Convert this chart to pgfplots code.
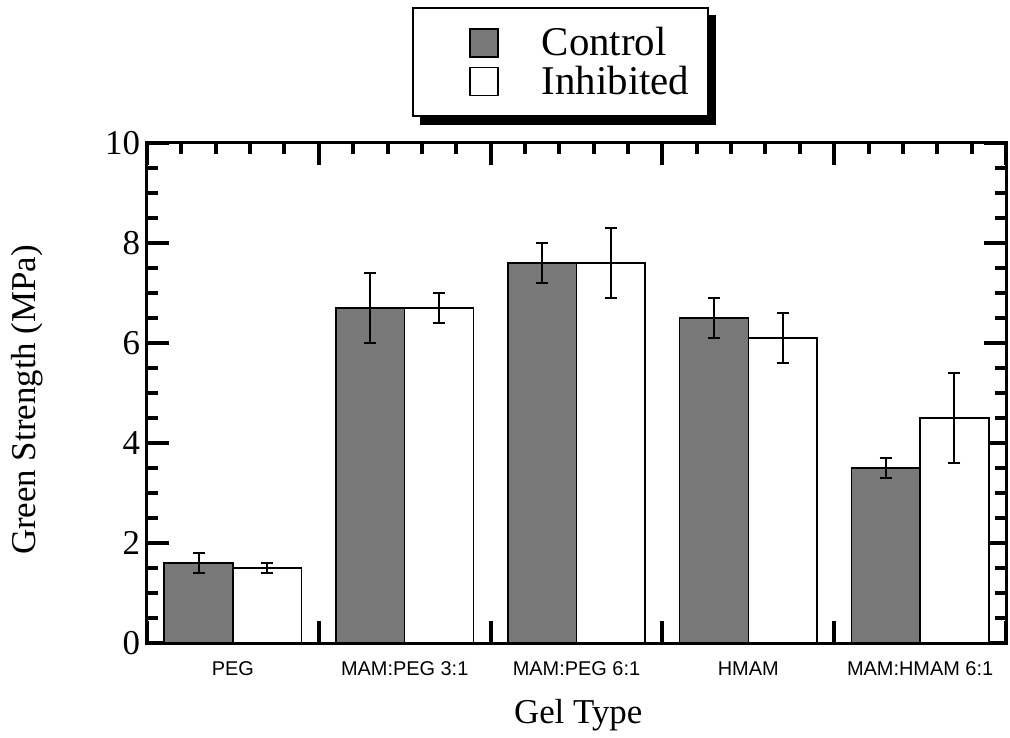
\documentclass[border=0pt]{standalone}
\usepackage{pgfplots}
\pgfplotsset{compat=1.18}
\usepackage{fontspec}
\setmainfont{Liberation Serif}
\newfontfamily\helv{Liberation Sans}
\definecolor{ctrlgray}{gray}{0.47}
\begin{document}
\begin{tikzpicture}
\useasboundingbox (-73.5bp,-47.5bp) rectangle (431.5bp,321.5bp);
\begin{axis}[
  ybar,
  bar width=0.4,
  scale only axis,
  width=429.5bp, height=250bp,
  xmin=0, xmax=5, ymin=0, ymax=10,
  axis line style={line width=1.5bp},
  xtick={0,1,2,3,4,5},
  xticklabels={PEG,MAM:PEG 3:1,MAM:PEG 6:1,HMAM,MAM:HMAM 6:1,{}},
  xticklabel style={font=\helv\fontsize{10}{12}\selectfont, xshift=42.95bp, yshift=-6bp},
  minor x tick num=4,
  ytick={0,2,4,6,8,10},
  minor y tick num=3,
  tick align=inside,
  xtick align=inside, ytick align=inside,
  major tick length=11bp, minor tick length=5.5bp,
  every tick/.style={black, line width=2bp},
  /pgf/number format/assume math mode=true,
  yticklabel style={font=\fontsize{17.5}{20}\selectfont},
  ylabel={Green Strength (MPa)},
  ylabel style={font=\fontsize{17.5}{20}\selectfont, at={(axis description cs:-0.1397,0.486)}, anchor=center},
  xlabel={Gel Type},
  xlabel style={font=\fontsize{17.5}{20}\selectfont, at={(axis description cs:0.502,-0.145)}, anchor=center},
  legend style={name=leg, at={(axis description cs:0.4814,1)}, anchor=south, yshift=13bp,
    draw=black, line width=1bp, fill=white,
    font=\fontsize{20.5}{22}\selectfont,
    inner xsep=7.5bp, inner ysep=7.5bp,
    row sep=-0.5bp},
  legend cell align=left,
  legend image code/.code={\path[draw=none,fill=none] (-21bp,0bp) -- (34bp,0bp);
     \draw[#1, line width=0.8bp] (0bp,-7bp) rectangle (14bp,7bp);},
]
\addplot[bar shift=0pt, fill=ctrlgray, draw=black, line width=0.8bp,
  error bars/.cd, y dir=both, y explicit,
  error bar style={line width=1bp, black},
  error mark options={rotate=90, mark size=3bp, line width=1bp, black}]
  coordinates {
  (0.3,1.6) +- (0,0.2)
  (1.3,6.7) +- (0,0.7)
  (2.3,7.6) +- (0,0.4)
  (3.3,6.5) +- (0,0.4)
  (4.3,3.5) +- (0,0.2)
};
\addlegendentry{Control}
\addplot[bar shift=0pt, fill=white, draw=black, line width=0.8bp,
  error bars/.cd, y dir=both, y explicit,
  error bar style={line width=1bp, black},
  error mark options={rotate=90, mark size=3bp, line width=1bp, black}]
  coordinates {
  (0.7,1.5) +- (0,0.1)
  (1.7,6.7) +- (0,0.3)
  (2.7,7.6) +- (0,0.7)
  (3.7,6.1) +- (0,0.5)
  (4.7,4.5) +- (0,0.9)
};
\addlegendentry{Inhibited}
\end{axis}
\fill[black] ([yshift=-4bp]leg.north east) rectangle ([xshift=3.5bp,yshift=-4bp]leg.south east);
\fill[black] ([xshift=4bp]leg.south west) rectangle ([yshift=-4bp]leg.south east);
\end{tikzpicture}
\end{document}
